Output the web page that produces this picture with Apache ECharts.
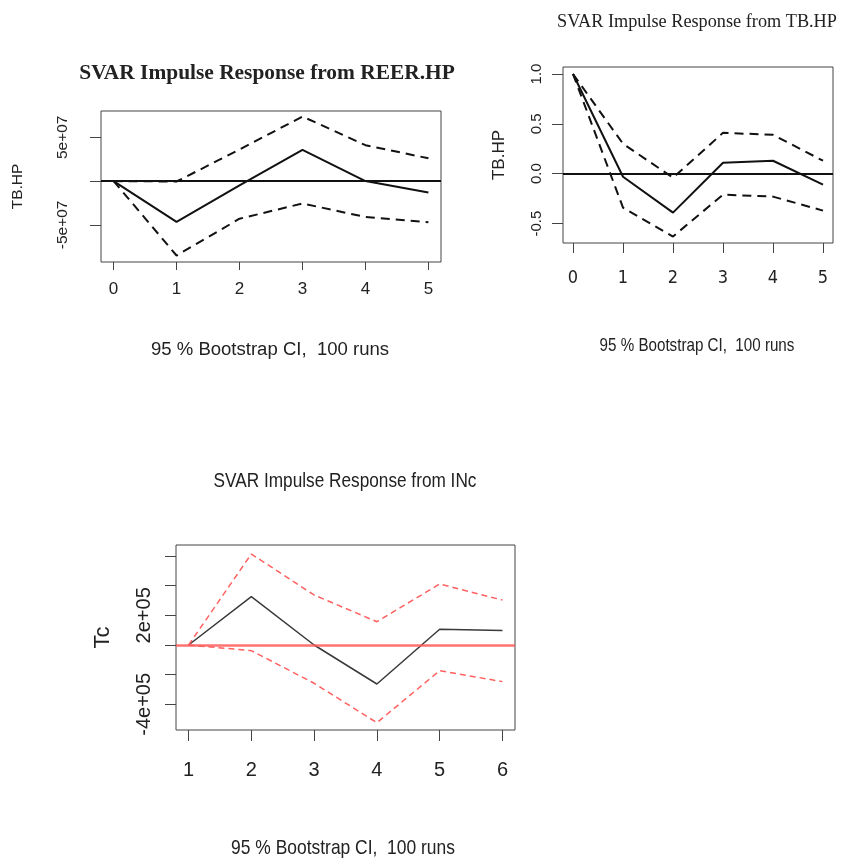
<!DOCTYPE html>
<html>
<head>
<meta charset="utf-8">
<style>html,body{margin:0;padding:0;background:#fff;}#c{width:841px;height:860px;}</style>
<script src="https://cdn.jsdelivr.net/npm/echarts@6/dist/echarts.min.js"></script>
</head>
<body>
<div id="c"></div>
<script>
// ---- Panel 1: SVAR Impulse Response from REER.HP (response TB.HP)
var reerSteps = [0, 1, 2, 3, 4, 5];
var reerIrf   = [0, -4.66e7, -0.5e7, 3.55e7, 0, -1.3e7];
var reerUpper = [0, -0.05e7, 3.6e7, 7.37e7, 4.1e7, 2.6e7];
var reerLower = [0, -8.5e7, -4.3e7, -2.56e7, -4.1e7, -4.7e7];
var reerYTicks = [-5e7, 0, 5e7];
var reerYLabels = {'-50000000': '-5e+07', '50000000': '5e+07'};

// ---- Panel 2: SVAR Impulse Response from TB.HP (response TB.HP)
var tbSteps = [0, 1, 2, 3, 4, 5];
var tbIrf   = [1.0, -0.03, -0.39, 0.11, 0.13, -0.11];
var tbUpper = [1.0, 0.30, -0.04, 0.41, 0.39, 0.13];
var tbLower = [1.0, -0.34, -0.63, -0.21, -0.23, -0.37];
var tbYTicks = [-0.5, 0, 0.5, 1.0];
var tbYLabels = {'-0.5': '-0.5', '0': '0.0', '0.5': '0.5', '1': '1.0'};

// ---- Panel 3: SVAR Impulse Response from INc (response Tc)
var incSteps = [1, 2, 3, 4, 5, 6];
var incIrf   = [0, 3.26e5, 0, -2.63e5, 1.06e5, 0.97e5];
var incUpper = [0, 6.13e5, 3.37e5, 1.57e5, 4.11e5, 3.03e5];
var incLower = [0, -0.38e5, -2.58e5, -5.24e5, -1.73e5, -2.47e5];
var incYTicks = [-4e5, -2e5, 0, 2e5, 4e5, 6e5];
var incYLabels = {'-400000': '-4e+05', '200000': '2e+05'};

var titles = ['SVAR Impulse Response from REER.HP', 'SVAR Impulse Response from TB.HP', 'SVAR Impulse Response from INc'];
var xLabelText = '95 % Bootstrap CI,  100 runs';

function pairs(xs, ys) { return xs.map(function (x, i) { return [x, ys[i]]; }); }

var SANS = '"Liberation Sans", Arial, sans-serif';
var NARROW = '"Liberation Sans Narrow", "DejaVu Sans Condensed", "Liberation Sans", sans-serif';
var SERIF = '"Liberation Serif", "Times New Roman", serif';
var TXT = '#222';

function xAxisCfg(idx, min, max, ticks, font, fs, margin, tickLen) {
  return {
    type: 'value', gridIndex: idx, min: min, max: max,
    axisLine: {show: false, onZero: false},
    splitLine: {show: false},
    axisTick: {show: true, inside: false, length: tickLen, customValues: ticks, lineStyle: {color: '#444', width: 1}},
    axisLabel: {customValues: ticks, margin: margin, color: TXT, fontFamily: font, fontSize: fs,
      formatter: function (v) { return String(Math.round(v)); }}
  };
}
function yAxisCfg(idx, min, max, ticks, labelMap, font, fs, margin, name, nameFs, nameGap, tickLen) {
  var labelVals = ticks.filter(function (v) { return labelMap[String(v)] !== undefined; });
  return {
    type: 'value', gridIndex: idx, min: min, max: max,
    axisLine: {show: false, onZero: false},
    splitLine: {show: false},
    axisTick: {show: true, inside: false, length: tickLen, customValues: ticks, lineStyle: {color: '#444', width: 1}},
    axisLabel: {customValues: labelVals, rotate: 90, margin: margin, color: TXT, fontFamily: font, fontSize: fs,
      formatter: function (v) { var s = labelMap[String(v)]; return s === undefined ? '' : s; }},
    name: name, nameLocation: 'middle', nameGap: nameGap, nameRotate: 90,
    nameTextStyle: {color: TXT, fontFamily: font, fontSize: nameFs}
  };
}
function lineSeries(idx, data, color, width, dash, zeroLine) {
  var s = {
    type: 'line', xAxisIndex: idx, yAxisIndex: idx, data: data,
    showSymbol: false, symbol: 'none', animation: false, silent: true,
    lineStyle: {color: color, width: width, type: dash || 'solid'}
  };
  if (zeroLine) {
    s.markLine = {
      silent: true, animation: false, symbol: ['none', 'none'], label: {show: false},
      lineStyle: {color: zeroLine.color, width: zeroLine.width, type: 'solid', opacity: zeroLine.opacity || 1},
      data: [{yAxis: 0}]
    };
  }
  return s;
}
function label(text, x, y, font, size, weight, sx) {
  return {
    type: 'text', x: x, y: y, scaleX: sx, scaleY: 1, silent: true,
    style: {text: text, fill: TXT, font: weight + ' ' + size + 'px ' + font,
      align: 'center', verticalAlign: 'middle', textAlign: 'center', textVerticalAlign: 'middle'}
  };
}

var chart = echarts.init(document.getElementById('c'), null, {renderer: 'canvas'});
chart.setOption({
  backgroundColor: '#fff',
  animation: false,
  graphic: [
    label(titles[0], 267, 74, SERIF, 20, 'bold', 1.07),
    label(titles[1], 697, 22, SERIF, 19, 'normal', 0.96),
    label(titles[2], 345, 481, SANS, 21, 'normal', 0.82),
    label(xLabelText, 270, 350, SANS, 18, 'normal', 1.03),
    label(xLabelText, 697, 346, SANS, 18.5, 'normal', 0.82),
    label(xLabelText, 343, 848, SANS, 21, 'normal', 0.83)
  ],
  grid: [
    {left: 101, top: 111, width: 340, height: 151, show: true, borderColor: '#444', borderWidth: 1, backgroundColor: 'transparent', outerBoundsMode: 'none'},
    {left: 563, top: 67, width: 270, height: 176, show: true, borderColor: '#444', borderWidth: 1, backgroundColor: 'transparent', outerBoundsMode: 'none'},
    {left: 176, top: 545, width: 339, height: 185, show: true, borderColor: '#444', borderWidth: 1, backgroundColor: 'transparent', outerBoundsMode: 'none'}
  ],
  xAxis: [
    xAxisCfg(0, -0.2, 5.2, reerSteps, SANS, 17, 19, 8),
    xAxisCfg(1, -0.2, 5.2, tbSteps, NARROW, 18, 26, 10),
    xAxisCfg(2, 0.8, 6.2, incSteps, SANS, 20, 30, 11)
  ],
  yAxis: [
    yAxisCfg(0, -9.24e7, 8.0e7, reerYTicks, reerYLabels, SANS, 15.5, 30, 'TB.HP', 15.5, 75, 11),
    yAxisCfg(1, -0.695, 1.07, tbYTicks, tbYLabels, SANS, 15, 19, 'TB.HP', 17, 55, 11),
    yAxisCfg(2, -5.73e5, 6.74e5, incYTicks, incYLabels, SANS, 20, 22, 'Tc', 22, 62, 11)
  ],
  series: [
    lineSeries(0, pairs(reerSteps, reerIrf), '#111', 2, null, {color: '#111', width: 2}),
    lineSeries(0, pairs(reerSteps, reerUpper), '#111', 2, [9, 6]),
    lineSeries(0, pairs(reerSteps, reerLower), '#111', 2, [9, 6]),
    lineSeries(1, pairs(tbSteps, tbIrf), '#111', 2, null, {color: '#111', width: 2}),
    lineSeries(1, pairs(tbSteps, tbUpper), '#111', 2, [9, 6]),
    lineSeries(1, pairs(tbSteps, tbLower), '#111', 2, [9, 6]),
    lineSeries(2, pairs(incSteps, incIrf), '#3a3a3a', 1.5, null, {color: '#ff5a5a', width: 2.5, opacity: 0.85}),
    lineSeries(2, pairs(incSteps, incUpper), '#ff6060', 1.5, [6, 4]),
    lineSeries(2, pairs(incSteps, incLower), '#ff6060', 1.5, [6, 4])
  ]
});
</script>
</body>
</html>
